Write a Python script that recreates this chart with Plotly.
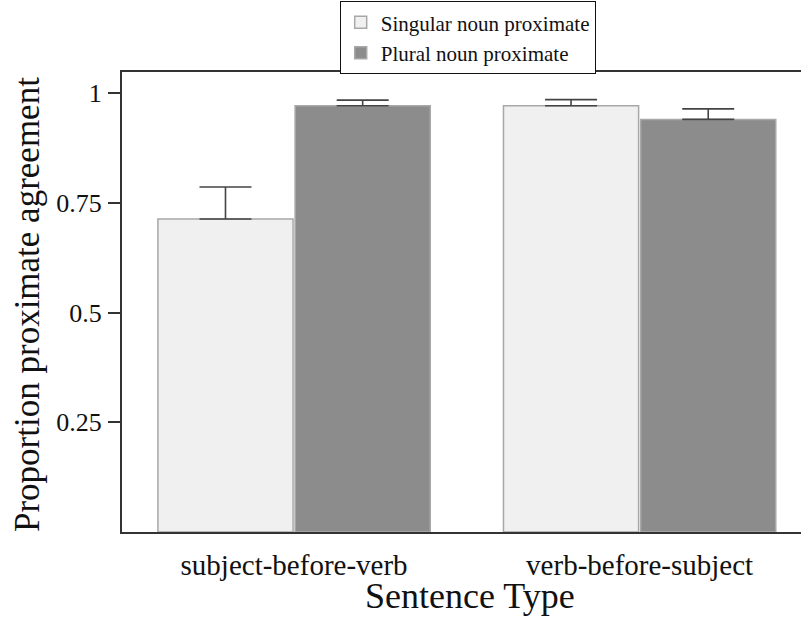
import plotly.graph_objects as go

categories = ["subject-before-verb", "verb-before-subject"]
series_names = ["Singular noun proximate", "Plural noun proximate"]
singular_vals = [0.713, 0.971]
singular_err = [0.073, 0.014]
plural_vals = [0.971, 0.940]
plural_err = [0.013, 0.024]

x_pos = [0, 1]
font_fam = "Liberation Serif"

fig = go.Figure()
fig.add_trace(go.Bar(
    x=x_pos, y=singular_vals, name=series_names[0],
    marker=dict(color="#f0f0f0", line=dict(color="#a8a8a8", width=1.5)),
    error_y=dict(type="data", array=singular_err, arrayminus=[0, 0], symmetric=False,
                 color="#444444", thickness=1.6, width=26),
))
fig.add_trace(go.Bar(
    x=x_pos, y=plural_vals, name=series_names[1],
    marker=dict(color="#8c8c8c", line=dict(color="#a8a8a8", width=1.5)),
    error_y=dict(type="data", array=plural_err, arrayminus=[0, 0], symmetric=False,
                 color="#444444", thickness=1.6, width=26),
))

fig.update_layout(
    width=801, height=617,
    margin=dict(l=122, r=0, t=72, b=85, autoexpand=False),
    paper_bgcolor="white", plot_bgcolor="white",
    barmode="group", bargap=0.206, bargroupgap=0.015,
    font=dict(family=font_fam, color="#111111"),
    showlegend=True,
    legend=dict(
        x=(468 - 122) / 679, y=1 + (72 - 1) / 460, xanchor="center", yanchor="top",
        bordercolor="#111111", borderwidth=1.2, bgcolor="white",
        font=dict(family=font_fam, size=21, color="#111111"),
        tracegroupgap=0, itemwidth=30,
    ),
    xaxis=dict(
        range=[-0.498, 1.467], tickvals=x_pos, ticktext=categories,
        showline=True, linecolor="#333333", linewidth=2, mirror=True,
        ticks="", showgrid=False, zeroline=False, automargin=False,
        tickfont=dict(family=font_fam, size=29, color="#111111"),
        ticklabelstandoff=6,
    ),
    yaxis=dict(
        range=[0, 1.048], tickvals=[0.25, 0.5, 0.75, 1], ticktext=["0.25", "0.5", "0.75", "1"],
        showline=True, linecolor="#333333", linewidth=2,
        ticks="outside", ticklen=12, tickwidth=1.5, tickcolor="#333333",
        showgrid=False, zeroline=False, automargin=False,
        tickfont=dict(family=font_fam, size=26, color="#111111"),
        ticklabelstandoff=1,
    ),
    annotations=[
        dict(text="Proportion proximate agreement", xref="paper", yref="paper",
             x=(27 - 122) / 679, y=(532 - 305) / 460, xanchor="center", yanchor="middle",
             textangle=-90, showarrow=False,
             font=dict(family=font_fam, size=35, color="#111111")),
        dict(text="Sentence Type", xref="paper", yref="paper",
             x=(470 - 122) / 679, y=-(617 - 532) / 460, xanchor="center", yanchor="bottom",
             showarrow=False, borderpad=0,
             font=dict(family=font_fam, size=36, color="#111111")),
    ],
)

fig.write_html(
    "out.html",
    config={"displayModeBar": False},
    post_script="document.body.style.margin='0';document.body.style.padding='0';document.body.style.overflow='hidden';",
)
